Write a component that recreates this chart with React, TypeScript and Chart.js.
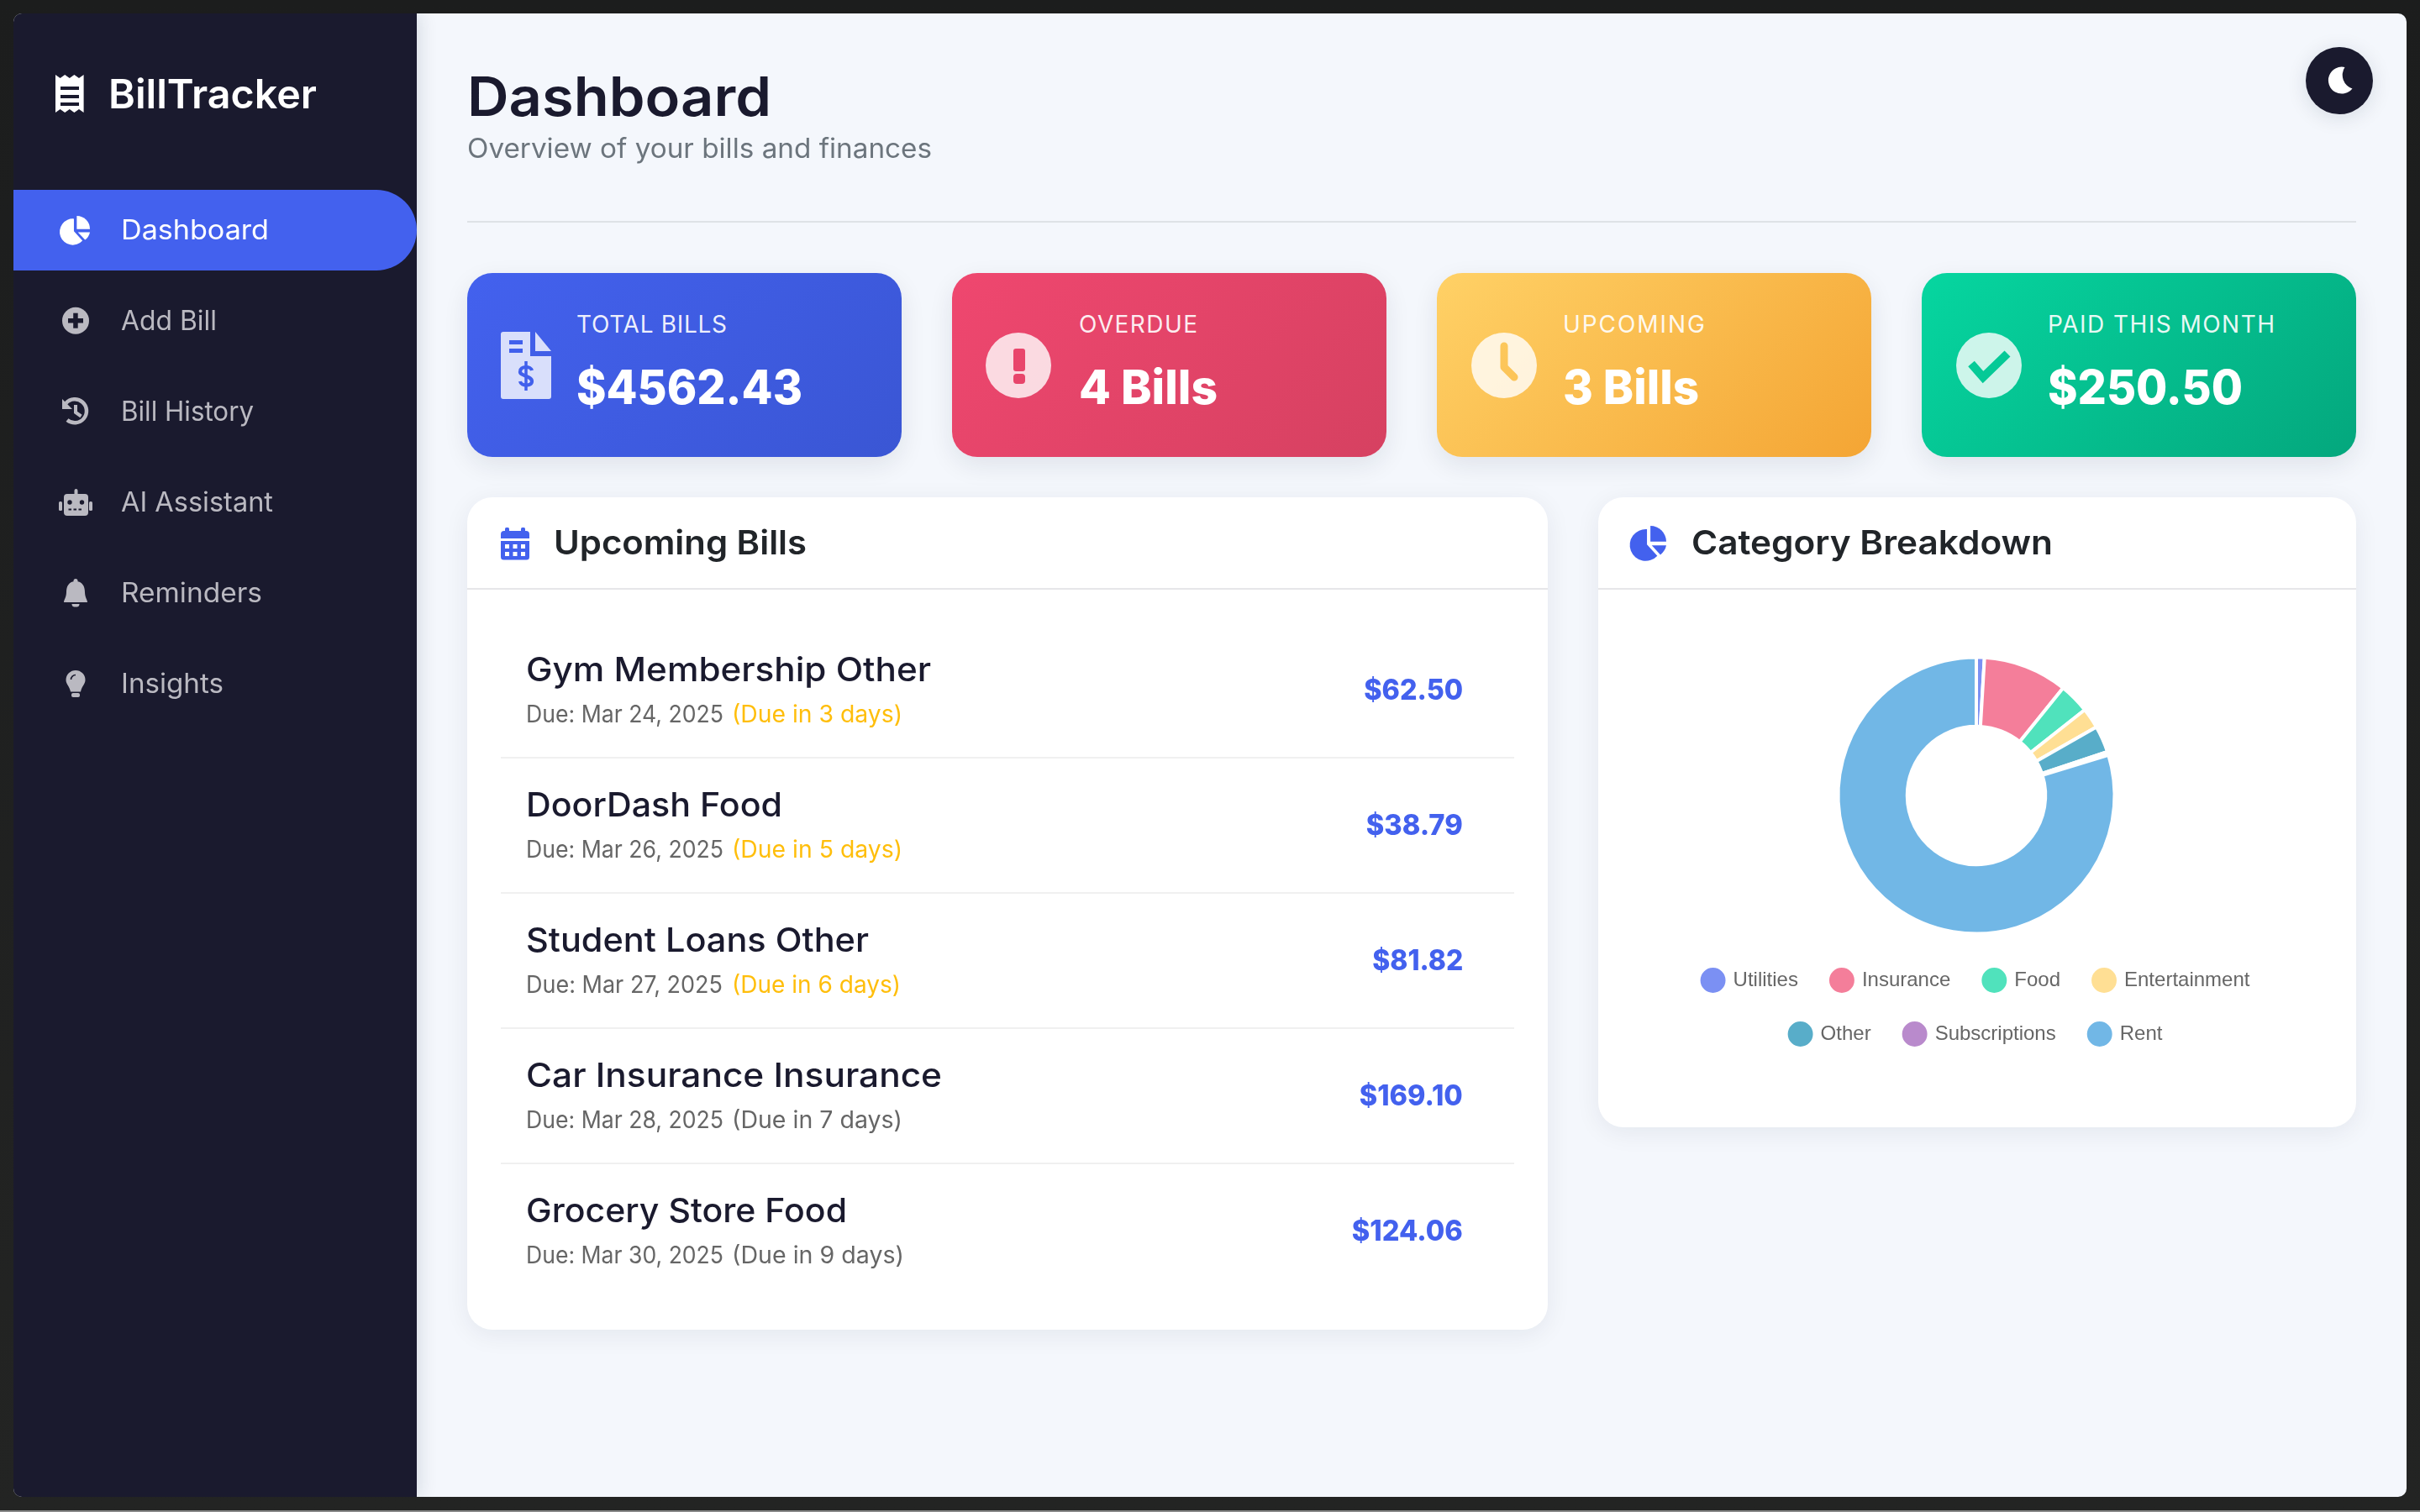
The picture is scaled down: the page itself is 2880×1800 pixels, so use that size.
import React, { useEffect, useRef } from "react";
import Chart from "chart.js/auto";

const categories = ["Utilities", "Insurance", "Food", "Entertainment", "Other", "Subscriptions", "Rent"];
const categoryValues = [43, 450, 162, 109, 143, 18, 3637];
const categoryColors = [
  "rgba(67,97,238,0.7)",
  "rgba(239,71,111,0.7)",
  "rgba(6,214,160,0.7)",
  "rgba(255,209,102,0.7)",
  "rgba(17,138,178,0.7)",
  "rgba(155,89,182,0.7)",
  "rgba(52,152,219,0.7)",
];

const navItems = ["Dashboard", "Add Bill", "Bill History", "AI Assistant", "Reminders", "Insights"];
const statLabels = ["TOTAL BILLS", "OVERDUE", "UPCOMING", "PAID THIS MONTH"];
const statValues = ["$4562.43", "4 Bills", "3 Bills", "$250.50"];
const billNames = ["Gym Membership Other", "DoorDash Food", "Student Loans Other", "Car Insurance Insurance", "Grocery Store Food"];
const billDates = ["Due: Mar 24, 2025", "Due: Mar 26, 2025", "Due: Mar 27, 2025", "Due: Mar 28, 2025", "Due: Mar 30, 2025"];
const billCountdowns = ["(Due in 3 days)", "(Due in 5 days)", "(Due in 6 days)", "(Due in 7 days)", "(Due in 9 days)"];
const billSoon = [true, true, true, false, false];
const billAmounts = ["$62.50", "$38.79", "$81.82", "$169.10", "$124.06"];

// layout constants
const FONT = "Inter, sans-serif";
const navWidths = [176, 114, 158, 181, 168, 122];
const navCenters = [273.6, 381.7, 490, 598, 705.7, 813.5];
const cardLefts = [556, 1133, 1710, 2287];
const cardGradients = [
  "linear-gradient(135deg,#4361ee,#3a56d4)",
  "linear-gradient(135deg,#ef476f,#d64161)",
  "linear-gradient(135deg,#ffd166,#f4a534)",
  "linear-gradient(135deg,#06d6a0,#04a77d)",
];
const cardTextX = [686, 1284, 1860, 2437];
const labelWidths = [179, 141, 169, 270];
const valueWidths = [269, 165, 162, 232];
const nameWidths = [482, 305, 408, 495, 382];
const dateWidths = [235, 235, 234, 235, 235];
const countdownWidths = [203, 203, 201, 203, 205];
const amountWidths = [118, 115, 108, 123, 132];

const measureCanvas = document.createElement("canvas").getContext("2d")!;
function natural(text: string, size: number, weight: number) {
  measureCanvas.font = `${weight} ${size}px Inter`;
  return measureCanvas.measureText(text).width;
}

function T(props: {
  x: number; y: number; w?: number; size: number; weight?: number; color: string;
  text: string; right?: boolean; spaced?: boolean;
}) {
  const { x, y, w, size, weight = 400, color, text, right, spaced } = props;
  const base = natural(text, size, weight);
  const style: React.CSSProperties = {
    position: "absolute",
    top: y - size,
    height: size * 2,
    lineHeight: `${size * 2}px`,
    fontFamily: FONT,
    fontSize: size,
    fontWeight: weight,
    color,
    whiteSpace: "pre",
  };
  if (w && spaced) style.letterSpacing = (w - base) / (text.length - 1);
  if (w && !spaced) {
    style.transform = `scaleX(${w / base})`;
    style.transformOrigin = right ? "right center" : "left center";
  }
  if (right) style.right = 2880 - x;
  else style.left = x;
  return <div style={style}>{text}</div>;
}

function Box({ x, y, w, h, style }: { x: number; y: number; w: number; h: number; style: React.CSSProperties }) {
  return <div style={{ position: "absolute", left: x, top: y, width: w, height: h, ...style }} />;
}

function PieIcon({ x, y, s, color }: { x: number; y: number; s: number; color: string }) {
  return (
    <g transform={`translate(${x} ${y}) scale(${s / 100})`} fill={color}>
      <path d="M44 10 V54 L74 87 A46 46 0 1 1 44 10 Z" />
      <path d="M54 0 A46 46 0 0 1 100 46 H54 Z" />
      <path d="M58 57 H100 A46 46 0 0 1 83 84 Z" />
    </g>
  );
}

function Icons() {
  const dim = "#bab9c1";
  const dark = "#1a1a2e";
  const blue = "#4361ee";
  return (
    <svg width={2880} height={1800} style={{ position: "absolute", left: 0, top: 0 }}>
      <defs>
        <mask id="m-ex">
          <circle cx={1212} cy={435} r={39} fill="#fff" />
          <rect x={1206} y={415} width={14} height={27} rx={3} fill="#000" />
          <rect x={1206} y={445} width={14} height={12} rx={4} fill="#000" />
        </mask>
        <mask id="m-clock">
          <circle cx={1790} cy={435} r={39} fill="#fff" />
          <path d="M1790 412 V437 L1802 449" fill="none" stroke="#000" strokeWidth={9} strokeLinecap="round" strokeLinejoin="round" />
        </mask>
        <mask id="m-check">
          <circle cx={2367} cy={435} r={39} fill="#fff" />
          <path d="M2346 433 L2360 449 L2389 421" fill="none" stroke="#000" strokeWidth={10} />
        </mask>
      </defs>

      {/* logo receipt */}
      <path
        fill="#fff"
        d="M66 89 l5.6 4 5.6 -4 5.6 4 5.6 -4 5.6 4 5.6 -4 V134 l-5.6 -4 -5.6 4 -5.6 -4 -5.6 4 -5.6 -4 -5.6 4 Z"
      />
      {[103, 113, 122].map((y) => (
        <rect key={y} x={72} y={y} width={22} height={4} fill={dark} />
      ))}

      {/* nav icons */}
      <PieIcon x={73} y={257} s={34} color="#fff" />
      <circle cx={90} cy={381.7} r={16} fill={dim} />
      <rect x={81} y={379} width={18} height={5.5} fill={dark} />
      <rect x={87.2} y={372.7} width={5.5} height={18} fill={dark} />

      <path d="M78.5 480 A14 14 0 1 1 80 500" fill="none" stroke={dim} strokeWidth={4.5} />
      <path d="M74 475 L86 487 H74 Z" fill={dim} />
      <path d="M90 482 V491 L96.5 495.5" fill="none" stroke={dim} strokeWidth={4} />

      <rect x={76} y={588} width={29} height={26} rx={4} fill={dim} />
      <rect x={88.5} y={582} width={4} height={8} rx={2} fill={dim} />
      <rect x={70} y={597} width={4} height={11} rx={1.5} fill={dim} />
      <rect x={106} y={597} width={4} height={11} rx={1.5} fill={dim} />
      <circle cx={83} cy={598} r={2.7} fill={dark} />
      <circle cx={97.5} cy={598} r={2.7} fill={dark} />
      <path d="M81.5 606.5 H99" stroke={dark} strokeWidth={2} strokeDasharray="3.5 2.5" />

      <circle cx={90} cy={691.5} r={2.5} fill={dim} />
      <path d="M90 692 c-8 0 -11 6 -11 13 c0 6 -3 9 -3 12 h28 c0 -3 -3 -6 -3 -12 c0 -7 -3 -13 -11 -13 Z" fill={dim} />
      <path d="M85.5 719 h9 c0 3 -2 3.5 -4.5 3.5 s-4.5 -.5 -4.5 -3.5 Z" fill={dim} />

      <path d="M90 798 a11.5 11.5 0 0 1 11.5 11.5 c0 5 -4 7 -5.5 14 h-12 c-1.5 -7 -5.5 -9 -5.5 -14 A11.5 11.5 0 0 1 90 798 Z" fill={dim} />
      <rect x={85} y={825} width={10} height={5} rx={2} fill={dim} />
      <path d="M84.5 809 a5.5 5.5 0 0 1 5.5 -5.5" fill="none" stroke={dark} strokeWidth={1.6} />

      {/* stat icons */}
      <g>
        <path d="M599 395 H631 V424 H656 V472 a3 3 0 0 1 -3 3 H599 a3 3 0 0 1 -3 -3 V398 a3 3 0 0 1 3 -3 Z" fill="#d9dffb" />
        <path d="M637 395 L656 418 H637 Z" fill="#d9dffb" />
        <rect x={606} y={405} width={16} height={5} fill="#4160ec" />
        <rect x={606} y={415} width={16} height={5} fill="#4160ec" />
        <path d="M626 430 V465" stroke="#4160ec" strokeWidth={3.5} />
        <path d="M633 441 c-1 -5 -13 -6 -14 1 c-1 6 14 5 14 12 c0 6 -13 6 -14 0" fill="none" stroke="#4160ec" strokeWidth={4.2} />
      </g>
      <rect x={1170} y={393} width={84} height={84} fill="#fff" fillOpacity={0.8} mask="url(#m-ex)" />
      <rect x={1748} y={393} width={84} height={84} fill="#fff" fillOpacity={0.8} mask="url(#m-clock)" />
      <rect x={2325} y={393} width={84} height={84} fill="#fff" fillOpacity={0.8} mask="url(#m-check)" />

      {/* panel icons */}
      <rect x={601} y={628} width={5} height={8} rx={1.5} fill={blue} />
      <rect x={620} y={628} width={5} height={8} rx={1.5} fill={blue} />
      <path d="M596 636 a4 4 0 0 1 4 -4 h26 a4 4 0 0 1 4 4 v5 h-34 Z" fill={blue} />
      <path d="M596 644 h34 v19 a3.5 3.5 0 0 1 -3.5 3.5 h-27 a3.5 3.5 0 0 1 -3.5 -3.5 Z" fill={blue} />
      {[601, 610.5, 620].flatMap((x) =>
        [648, 657].map((y) => <rect key={`${x}-${y}`} x={x} y={y} width={5} height={5} fill="#fff" />),
      )}
      <PieIcon x={1942} y={626} s={41} color={blue} />

      {/* theme toggle */}
      <path d="M2790.5 80 A16 16 0 1 0 2799.5 105.5 A17 17 0 0 1 2790.5 80 Z" fill="#fff" />
    </svg>
  );
}

function Donut() {
  const ref = useRef<HTMLCanvasElement>(null);
  useEffect(() => {
    const chart = new Chart(ref.current!, {
      type: "doughnut",
      data: {
        labels: categories,
        datasets: [
          {
            data: categoryValues,
            backgroundColor: categoryColors,
            borderColor: "#ffffff",
            borderWidth: 4,
            radius: 164.5,
          },
        ],
      },
      options: {
        animation: false,
        responsive: false,
        plugins: {
          tooltip: { enabled: false },
          legend: {
            position: "bottom",
            labels: {
              usePointStyle: true,
              pointStyle: "circle",
              padding: 40,
              color: "#666666",
              font: { family: "'Liberation Sans', Arial, sans-serif", size: 24 },
            },
          },
        },
      },
    } as any);
    return () => chart.destroy();
  }, []);
  return (
    <canvas
      ref={ref}
      width={822}
      height={474}
      style={{ position: "absolute", left: 1941, top: 778.5, width: 822, height: 474 }}
    />
  );
}

export default function App() {
  useEffect(() => {
    document.documentElement.style.margin = "0";
    document.body.style.margin = "0";
    document.body.style.background = "#1f2020";
    document.body.style.overflow = "hidden";
  }, []);

  const panelShadow = "0 6px 30px rgba(20,30,60,0.07)";
  const cardShadow = "0 10px 30px rgba(20,30,60,0.09)";

  return (
    <div style={{ position: "fixed", left: 0, top: 0, width: 2880, height: 1800, overflow: "hidden", background: "linear-gradient(#1c1d1d,#232423)" }}>
      <Box x={0} y={1798} w={2880} h={2} style={{ background: "#8a8a8a" }} />
      {/* window */}
      <div style={{ position: "absolute", left: 16, top: 16, width: 2848, height: 1766, background: "#f4f7fc", borderRadius: 10, overflow: "hidden" }}>
        <div style={{ position: "absolute", left: 0, top: 0, width: 480, height: 1766, background: "#1a1a2e", boxShadow: "4px 0 20px rgba(20,30,60,0.12)" }} />
      </div>

      {/* active nav */}
      <div style={{ position: "absolute", left: 16, top: 226, width: 480, height: 96, background: "#4361ee", borderRadius: "0 48px 48px 0" }} />

      {/* stat cards */}
      {cardLefts.map((x, i) => (
        <Box key={x} x={x} y={325} w={517} h={219} style={{ background: cardGradients[i], borderRadius: 30, boxShadow: cardShadow }} />
      ))}

      {/* panels */}
      <Box x={556} y={592} w={1286} h={991} style={{ background: "#fff", borderRadius: 30, boxShadow: panelShadow }} />
      <Box x={556} y={700} w={1286} h={2} style={{ background: "#e6e6e9" }} />
      <Box x={1902} y={592} w={902} h={750} style={{ background: "#fff", borderRadius: 30, boxShadow: panelShadow }} />
      <Box x={1902} y={700} w={902} h={2} style={{ background: "#e6e6e9" }} />
      {[902, 1063, 1224, 1385].map((y) => (
        <Box key={y} x={596} y={y - 1} w={1206} h={2} style={{ background: "#f0f0f0" }} />
      ))}

      {/* header */}
      <Box x={556} y={263} w={2248} h={2} style={{ background: "#dee2e6" }} />
      <Box x={2744} y={56} w={80} h={80} style={{ background: "#1a1a2e", borderRadius: "50%", boxShadow: "0 4px 24px rgba(20,30,60,0.12)" }} />

      <Icons />
      <Donut />

      <T x={129} y={112} w={248} size={48} weight={600} color="#ffffff" text="BillTracker" />
      {navItems.map((n, i) => (
        <T key={n} x={144} y={navCenters[i]} w={navWidths[i]} size={32} color={i === 0 ? "#ffffff" : "#bab9c1"} text={n} />
      ))}

      <T x={556} y={114.5} w={362} size={64} weight={600} color="#1a1a2e" text="Dashboard" />
      <T x={556} y={177} w={553} size={32} color="#6c757d" text="Overview of your bills and finances" />

      {statLabels.map((l, i) => (
        <T key={l} x={cardTextX[i]} y={386} w={labelWidths[i]} size={28} color="rgba(255,255,255,0.92)" text={l} spaced />
      ))}
      {statValues.map((v, i) => (
        <T key={v} x={cardTextX[i]} y={460.5} w={valueWidths[i]} size={56} weight={800} color="#ffffff" text={v} />
      ))}

      <T x={659} y={645.5} w={301} size={40} weight={600} color="#212529" text="Upcoming Bills" />
      <T x={2013} y={646} w={430} size={40} weight={600} color="#212529" text="Category Breakdown" />

      {billNames.map((name, i) => {
        const rowY = 161 * i;
        return (
          <React.Fragment key={name}>
            <T x={626} y={796.5 + rowY} w={nameWidths[i]} size={40} weight={500} color="#1a1a2e" text={name} />
            <T x={626} y={849.7 + rowY} w={dateWidths[i]} size={28} color="#666666" text={billDates[i]} />
            <T x={871} y={849.7 + rowY} w={countdownWidths[i]} size={28} color={billSoon[i] ? "#ffbe0b" : "#666666"} text={billCountdowns[i]} />
            <T x={1741} y={821 + rowY} w={amountWidths[i]} size={34} weight={800} color="#4361ee" text={billAmounts[i]} right />
          </React.Fragment>
        );
      })}
    </div>
  );
}
